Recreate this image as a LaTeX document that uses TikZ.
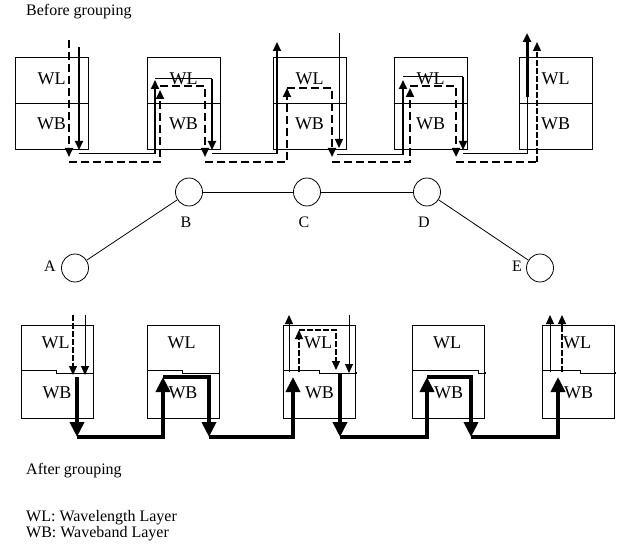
\documentclass[tikz,border=0pt]{standalone}
\usepackage{fontspec}
\setmainfont{Liberation Serif}
\usetikzlibrary{arrows.meta,shapes.geometric}
\begin{document}
\begin{tikzpicture}[x=1pt,y=-1pt,
  boxn/.style={draw,line width=0.8pt,minimum width=73pt,minimum height=92pt,inner sep=0pt},
  lbl/.style={font=\fontsize{18}{18}\selectfont,inner sep=0pt},
  txt/.style={font=\fontsize{16}{16}\selectfont,inner sep=0pt,anchor=west},
  nlab/.style={font=\fontsize{16}{16}\selectfont,inner sep=0pt},
  sthin/.style={line width=1pt},
  smid/.style={line width=2pt},
  dsh/.style={line width=2.2pt,dash pattern=on 8pt off 4pt},
  dthin/.style={line width=1.2pt,dash pattern=on 6pt off 2pt},
  tip/.style={-{Triangle[length=9pt,width=8pt]}},
  bigtip/.style={-{Triangle[length=15pt,width=14pt]}},
  heavy/.style={line width=4pt},
  nodec/.style={draw,ellipse,line width=0.8pt,minimum width=27pt,minimum height=28pt,inner sep=0pt},
  ]
\useasboundingbox (0,0) rectangle (621,548);
\fill[white] (0,0) rectangle (621,548);

% ---------- titles ----------
\node[txt] (tb) at (26,12) {Before grouping};
\node[txt] (ta) at (26,471) {After grouping};
\node[txt] (l1) at (26,518) {WL: Wavelength Layer};
\node[txt] (l2) at (26,534) {WB: Waveband Layer};

% ---------- top boxes ----------
\foreach \n/\x in {1/51.5,2/183.5,3/309.5,4/430.5,5/555.5}{
  \node[boxn] (t\n) at (\x,103) {};
  \draw[line width=0.8pt] (t\n.west) -- (t\n.east);
  \node[lbl] (t\n wl) at (\x,79) {WL};
  \node[lbl] (t\n wb) at (\x,124) {WB};
}

% ---------- bottom boxes (divider with a small jog) ----------
\foreach \n/\x/\s in {1/57/0,2/183/0,3/319.5/0,4/448.5/30,5/578.5/2}{
  \node[boxn,minimum width=72pt,minimum height=93pt] (b\n) at (\x,371.5) {};
  \draw[line width=0.8pt] (b\n.west) ++(0,-1) -- ++(36+\s,0) -- ++(0,2.5) -| (b\n.east);
  \node[lbl] (b\n wl) at (\x-1.5,343) {WL};
  \node[lbl] (b\n wb) at (\x,393) {WB};
}

% ---------- top solid signal ----------
\draw[smid,tip] (79,47) -- (79,150);
\draw[sthin] (79,154) -- (155,154);
\draw[smid,tip] (155,154) -- (155,80);
\draw[sthin] (155,79) -- (212,79);
\draw[smid,tip] (212,79) -- (212,150);
\draw[sthin] (212,154) -- (277,154);
\draw[smid,tip] (277,154) -- (277,42);
\draw[sthin,tip] (339,33) -- (339,148);
\draw[sthin] (337,155) -- (403,155);
\draw[smid,tip] (403,155) -- (403,80);
\draw[sthin] (403,77) -- (463,77);
\draw[smid,tip] (463,77) -- (463,150);
\draw[sthin] (463,154) -- (527,154) -- (527,97);
\draw[line width=3pt,tip] (527,97) -- (527,33);

% ---------- top dashed signal ----------
\draw[dsh,tip] (69,40) -- (69,157);
\draw[dsh,tip] (69,162) -- (160,162) -- (160,90);
\draw[dsh,tip] (160,86) -- (205,86) -- (205,157);
\draw[dsh,tip] (205,162) -- (287,162) -- (287,88);
\draw[dsh,tip] (287,88) -- (332,88) -- (332,157);
\draw[dsh,tip] (332,162) -- (410,162) -- (410,88);
\draw[dsh,tip] (410,86) -- (456,86) -- (456,157);
\draw[dsh] (456,162) -- (537,162);
\draw[dthin,tip] (537,162) -- (537,42);

% ---------- network ----------
\node[nodec] (A) at (75,268) {};
\node[nodec] (B) at (189,192) {};
\node[nodec] (C) at (307,192) {};
\node[nodec] (D) at (427,192) {};
\node[nodec] (E) at (540,268) {};
\draw[line width=0.8pt] (A) -- (B);
\draw[line width=0.8pt] (B) -- (C);
\draw[line width=0.8pt] (C) -- (D);
\draw[line width=0.8pt] (D) -- (E);
\node[nlab] (la) at (50,266) {A};
\node[nlab] (lb) at (186,222) {B};
\node[nlab] (lc) at (304,222) {C};
\node[nlab] (ld) at (424,222) {D};
\node[nlab] (le) at (517,266) {E};

% ---------- bottom signals ----------
\draw[sthin,tip] (85,315) -- (85,375);
\draw[dthin,tip] (73,315) -- (73,375);
\draw[heavy,bigtip] (77,377) -- (77,437);
\draw[heavy,bigtip] (77,437) -- (163,437) -- (163,377);
\draw[heavy,bigtip] (163,377) -- (209,377) -- (209,437);
\draw[heavy,bigtip] (209,437) -- (293,437) -- (293,377);

\draw[sthin,tip] (289,372) -- (289,315);
\draw[dthin,tip] (299,372) -- (299,330);
\draw[dthin,tip] (299,330) -- (336,330) -- (336,370);
\draw[sthin,tip] (349,315) -- (349,373);
\draw[heavy,bigtip] (340,373) -- (340,437);
\draw[heavy,bigtip] (340,437) -- (427,437) -- (427,377);
\draw[heavy,bigtip] (427,377) -- (471,377) -- (471,437);
\draw[heavy,bigtip] (471,437) -- (558,437) -- (558,377);

\draw[sthin,tip] (550,372) -- (550,315);
\draw[dthin,tip] (562,372) -- (562,315);
\end{tikzpicture}
\end{document}
